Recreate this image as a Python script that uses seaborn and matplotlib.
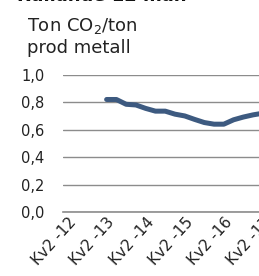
import numpy as np
import pandas as pd
import matplotlib
matplotlib.use("Agg")
import matplotlib.pyplot as plt
import seaborn as sns

# quarterly categories, Kv2-12 onwards
quarters = ['Kv2 -12', 'Kv3 -12', 'Kv4 -12', 'Kv1 -13',
            'Kv2 -13', 'Kv3 -13', 'Kv4 -13', 'Kv1 -14',
            'Kv2 -14', 'Kv3 -14', 'Kv4 -14', 'Kv1 -15',
            'Kv2 -15', 'Kv3 -15', 'Kv4 -15', 'Kv1 -16',
            'Kv2 -16', 'Kv3 -16', 'Kv4 -16', 'Kv1 -17',
            'Kv2 -17', 'Kv3 -17', 'Kv4 -17', 'Kv1 -18']
co2 = [np.nan, np.nan, np.nan, np.nan,
       0.82, 0.82, 0.785, 0.78,
       0.755, 0.735, 0.735, 0.713,
       0.70, 0.675, 0.652, 0.64,
       0.64, 0.672, 0.692, 0.708,
       0.72, 0.73, np.nan, np.nan]
yticks = [0.0, 0.2, 0.4, 0.6, 0.8, 1.0]
ytick_labels = ['0,0', '0,2', '0,4', '0,6', '0,8', '1,0']

df = pd.DataFrame({'idx': np.arange(len(quarters)), 'co2': co2})

sns.set_style('white')
plt.rcParams['font.family'] = ['DejaVu Sans']

fig = plt.figure(figsize=(2.59, 2.76), dpi=100)
ax = fig.add_axes([0.242, 0.232, 0.905, 0.497])

sns.lineplot(data=df, x='idx', y='co2', ax=ax, color='#3d5a80', linewidth=3.6)

ax.set_xlim(-0.5, len(quarters) - 0.5)
ax.set_ylim(0, 1.0)
ax.set_yticks(yticks)
ax.set_yticklabels(ytick_labels, fontsize=10.5, color='#222222')
ax.yaxis.grid(True, color='#8c8c8c', linewidth=1.0)
ax.set_axisbelow(True)

# tick marks between categories every second quarter, labels every fourth
ax.set_xticks(np.arange(-0.5, len(quarters), 2))
ax.set_xticklabels([])
ax.set_xticks(np.arange(0, len(quarters), 4), minor=True)
ax.set_xticklabels(quarters[::4], minor=True, rotation=48, ha='right',
                   rotation_mode='anchor', fontsize=11, color='#222222')
ax.tick_params(axis='x', which='major', direction='out', length=4,
               color='#8c8c8c', width=1)
ax.tick_params(axis='x', which='minor', length=0, pad=2)
ax.tick_params(axis='y', length=0, pad=13)

for s in ['top', 'right', 'left']:
    ax.spines[s].set_visible(False)
ax.spines['bottom'].set_color('#8c8c8c')
ax.spines['bottom'].set_linewidth(1.2)
ax.set_xlabel('')
ax.set_ylabel('')

fig.text(0.065, 0.996, 'Rullande 12 mån', fontsize=13, fontweight='bold',
         color='#111111', va='baseline')
fig.text(0.104, 0.889, 'Ton CO$_2$/ton', fontsize=13, color='#222222',
         va='baseline')
fig.text(0.104, 0.807, 'prod metall', fontsize=13, color='#222222',
         va='baseline')

fig.savefig('out.png', dpi=100)
